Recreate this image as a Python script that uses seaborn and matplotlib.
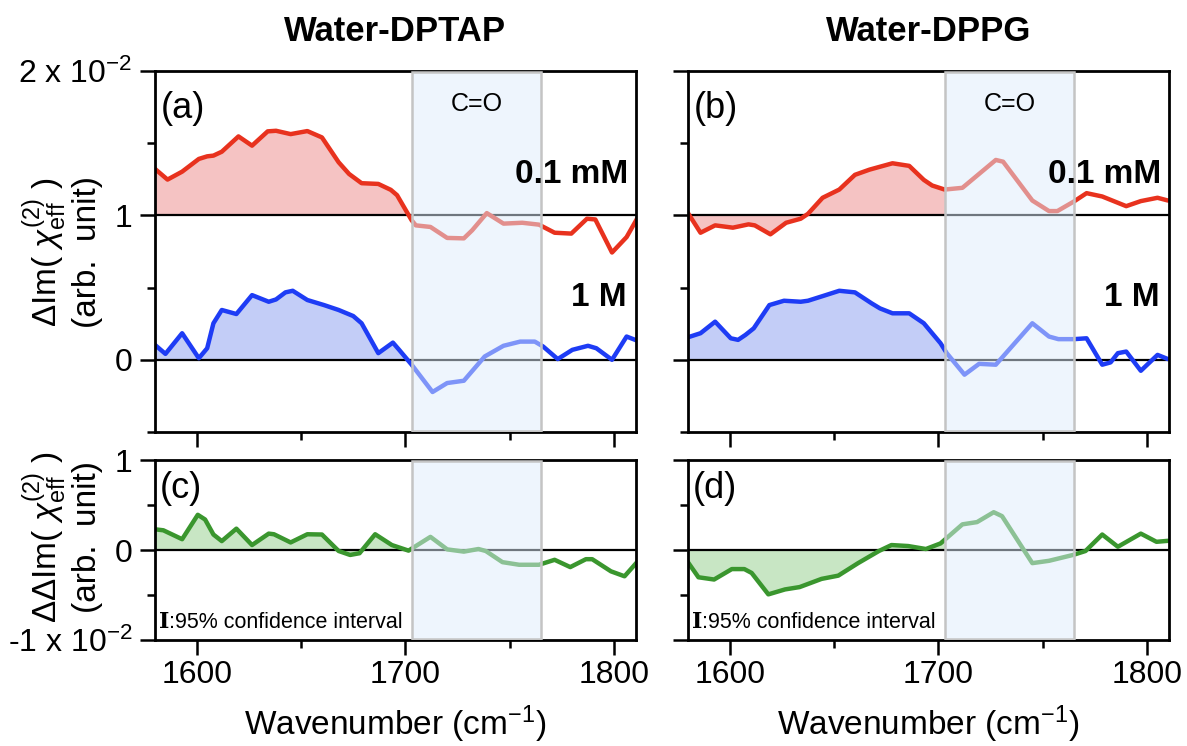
import matplotlib
matplotlib.use("Agg")
import matplotlib.pyplot as plt
from matplotlib.patches import Rectangle
from matplotlib.ticker import FixedLocator, FixedFormatter, NullFormatter
import numpy as np
import seaborn as sns

# ── Data (units of 1e-2) ────────────────────────────────────────────────────

# (a) Water-DPTAP, 0.1 mM (plotted on top of a +1 baseline)
WN_A_LOW = [1580, 1586, 1593, 1601, 1605, 1608, 1612, 1620, 1626.5, 1634, 1638, 1645,
            1653, 1660, 1668, 1673, 1679, 1687, 1693, 1696, 1703, 1705, 1712, 1720,
            1728, 1732, 1739, 1747, 1756, 1764, 1771.5, 1779.5, 1787, 1791, 1799, 1806, 1811]
IM_A_LOW = [0.322, 0.248, 0.303, 0.391, 0.409, 0.414, 0.441, 0.547, 0.483, 0.582, 0.586, 0.563,
            0.584, 0.540, 0.368, 0.287, 0.223, 0.218, 0.177, 0.140, -0.034, -0.069, -0.080, -0.156,
            -0.159, -0.103, 0.016, -0.057, -0.051, -0.064, -0.120, -0.126, -0.023, -0.028, -0.257,
            -0.150, -0.023]

# (a) Water-DPTAP, 1 M
WN_A_HIGH = [1580, 1585, 1593, 1601, 1605, 1608, 1612, 1619, 1626.5, 1634.5, 1638, 1642.5,
             1646, 1653, 1661, 1668, 1675, 1679, 1687, 1694, 1697, 1703, 1713, 1720, 1728,
             1738, 1747, 1755, 1762, 1766, 1773, 1780, 1787.5, 1791.5, 1799, 1806, 1811]
IM_A_HIGH = [0.103, 0.041, 0.184, 0.011, 0.080, 0.253, 0.345, 0.317, 0.448, 0.402, 0.418, 0.467,
             0.478, 0.414, 0.379, 0.345, 0.303, 0.253, 0.046, 0.119, 0.069, -0.034, -0.223, -0.161,
             -0.145, 0.023, 0.097, 0.126, 0.126, 0.092, 0.005, 0.069, 0.097, 0.080, 0.000, 0.161, 0.133]

# (b) Water-DPPG, 0.1 mM
WN_B_LOW = [1580, 1586, 1593, 1601.5, 1609, 1612, 1619.5, 1627, 1634, 1637.5, 1644.5, 1652.5,
            1660, 1667, 1678, 1686, 1693, 1697, 1703, 1711.5, 1727.5, 1731, 1745, 1753, 1757,
            1765, 1771, 1778.5, 1790, 1797, 1805, 1810]
IM_B_LOW = [0.016, -0.120, -0.069, -0.085, -0.062, -0.069, -0.131, -0.051, -0.023, 0.011, 0.122,
            0.179, 0.281, 0.317, 0.361, 0.343, 0.246, 0.207, 0.179, 0.191, 0.384, 0.372, 0.103,
            0.030, 0.030, 0.097, 0.154, 0.131, 0.064, 0.099, 0.122, 0.103]

# (b) Water-DPPG, 1 M
WN_B_HIGH = [1580, 1586, 1593, 1600.5, 1604, 1607.5, 1611.5, 1619, 1626, 1634, 1637.5, 1644.5,
             1652.5, 1660, 1668, 1672, 1678, 1686, 1693, 1697, 1701, 1704, 1712.5, 1719.5,
             1727.5, 1737, 1745, 1753, 1757.5, 1765, 1771, 1778.5, 1782.5, 1786, 1790, 1797,
             1805, 1810]
IM_B_HIGH = [0.156, 0.184, 0.264, 0.149, 0.138, 0.172, 0.218, 0.379, 0.409, 0.402, 0.409, 0.441,
             0.478, 0.467, 0.391, 0.356, 0.322, 0.322, 0.253, 0.184, 0.115, 0.046, -0.103, -0.028,
             -0.034, 0.122, 0.253, 0.161, 0.143, 0.143, 0.149, -0.034, -0.018, 0.046, 0.057,
             -0.076, 0.034, 0.005]

# (c) difference, Water-DPTAP
WN_C = [1580, 1584, 1593, 1600.5, 1604, 1608, 1612, 1619, 1626.5, 1634.5, 1637, 1645, 1653,
        1660, 1668, 1673.5, 1678, 1685.5, 1693.5, 1701.5, 1712, 1720, 1728, 1735, 1738.5,
        1746.5, 1754.5, 1764, 1771.5, 1779, 1786.5, 1789.5, 1798.5, 1805, 1811]
DIFF_C = [0.230, 0.219, 0.120, 0.391, 0.339, 0.172, 0.099, 0.237, 0.055, 0.182, 0.175, 0.084,
          0.175, 0.172, -0.011, -0.055, -0.036, 0.175, 0.055, -0.007, 0.146, 0.007, -0.018,
          0.011, -0.011, -0.135, -0.164, -0.164, -0.109, -0.190, -0.102, -0.102, -0.237,
          -0.292, -0.135]

# (d) difference, Water-DPPG
WN_D = [1579.5, 1585, 1592.5, 1601, 1607, 1610.5, 1618.5, 1626.5, 1633.5, 1644, 1652, 1661.5,
        1671.5, 1677.5, 1685.5, 1694, 1701, 1711.5, 1718.5, 1726.5, 1730.5, 1745, 1753, 1764.5,
        1770.5, 1778.5, 1786, 1797, 1804.5, 1810]
DIFF_D = [-0.120, -0.303, -0.328, -0.212, -0.212, -0.255, -0.493, -0.438, -0.412, -0.321,
          -0.285, -0.146, -0.011, 0.055, 0.044, 0.011, 0.073, 0.285, 0.310, 0.420, 0.376,
          -0.146, -0.120, -0.055, -0.011, 0.172, 0.036, 0.182, 0.091, 0.102]

TITLES = ["Water-DPTAP", "Water-DPPG"]
CONC_LABELS = ["0.1 mM", "1 M"]
PANEL_TAGS = [["(a)", "(b)"], ["(c)", "(d)"]]
CO_BAND = (1703, 1765)

# ── Styling ─────────────────────────────────────────────────────────────────

RED, RED_FILL = "#e8321e", "#f5c3c3"
BLUE, BLUE_FILL = "#1e3cf5", "#c3cdf7"
GREEN, GREEN_FILL = "#3a962e", "#c8e6c4"
BOX_FACE = (0.87, 0.93, 0.99, 0.5)
BOX_EDGE = "#c4c4c4"
XLIM = (1580, 1810.5)
FONT = ["Liberation Sans", "DejaVu Sans"]

sns.set_style("ticks")
plt.rcParams.update({
    "font.family": FONT,
    "mathtext.fontset": "custom",
    "mathtext.rm": "Liberation Sans",
    "mathtext.it": "Liberation Sans:italic",
    "mathtext.bf": "Liberation Sans:bold",
    "axes.linewidth": 2.0,
    "axes.edgecolor": "black",
    "axes.labelcolor": "black",
    "text.color": "black",
    "xtick.color": "black",
    "ytick.color": "black",
    "xtick.labelcolor": "black",
    "ytick.labelcolor": "black",
})


def draw_spectrum(ax, wn, vals, base, color, fill_color):
    wn = np.asarray(wn, dtype=float)
    y = base + np.asarray(vals, dtype=float)
    poly = ax.fill_between(wn, base, y, color=fill_color, lw=0, zorder=1)
    clip = Rectangle((XLIM[0] - 5, -10), CO_BAND[0] - XLIM[0] + 5, 20, transform=ax.transData)
    poly.set_clip_path(clip)
    sns.lineplot(x=wn, y=y, ax=ax, color=color, linewidth=3.2, sort=False,
                 estimator=None, zorder=2)
    ax.axhline(base, color="black", lw=1.6, zorder=1.5)


def style_axes(ax, ylim, yticks, ylabels, yminor, show_ylab, show_xlab):
    ax.set_xlim(*XLIM)
    ax.set_ylim(*ylim)
    ax.xaxis.set_major_locator(FixedLocator([1600, 1700, 1800]))
    ax.xaxis.set_minor_locator(FixedLocator([1650, 1750]))
    ax.yaxis.set_major_locator(FixedLocator(yticks))
    ax.yaxis.set_minor_locator(FixedLocator(yminor))
    if show_ylab:
        ax.yaxis.set_major_formatter(FixedFormatter(ylabels))
    else:
        ax.yaxis.set_major_formatter(NullFormatter())
    if not show_xlab:
        ax.xaxis.set_major_formatter(NullFormatter())
    ax.tick_params(which="major", direction="out", length=10.5, width=1.8, labelsize=23)
    ax.tick_params(which="minor", direction="out", length=5.5, width=1.8)
    ax.tick_params(axis="x", which="major", pad=4)
    ax.tick_params(axis="y", which="major", pad=6)
    for s in ax.spines.values():
        s.set_visible(True)
        s.set_linewidth(2.0)
    ax.set_xlabel("")
    ax.set_ylabel("")
    ax.axvspan(CO_BAND[0], CO_BAND[1], ymin=0.004, ymax=0.996,
               facecolor=BOX_FACE, edgecolor=BOX_EDGE, lw=1.8, zorder=3)


fig = plt.figure(figsize=(11.87, 7.46), dpi=100)
W, H = 1187, 746
lefts = [155, 688]
ax_w = 481
top_axes, bot_axes = [], []
for col, left in enumerate(lefts):
    top_axes.append(fig.add_axes([left / W, 1 - 432 / H, ax_w / W, 361 / H]))
    bot_axes.append(fig.add_axes([left / W, 1 - 640 / H, ax_w / W, 180 / H]))

spectra = [
    ((WN_A_LOW, IM_A_LOW), (WN_A_HIGH, IM_A_HIGH), (WN_C, DIFF_C)),
    ((WN_B_LOW, IM_B_LOW), (WN_B_HIGH, IM_B_HIGH), (WN_D, DIFF_D)),
]

for col in range(2):
    (wl, vl), (wh, vh), (wd, vd) = spectra[col]
    ax = top_axes[col]
    draw_spectrum(ax, wl, vl, 1.0, RED, RED_FILL)
    draw_spectrum(ax, wh, vh, 0.0, BLUE, BLUE_FILL)
    style_axes(ax, (-0.5, 2.0), [0, 1, 2], ["0", "1", r"2 x 10$^{\mathregular{-2}}$"],
               [-0.5, 0.5, 1.5], col == 0, False)
    ax.text(0.012, 0.945, PANEL_TAGS[0][col], transform=ax.transAxes, fontsize=26,
            ha="left", va="top", zorder=5)
    ax.text(sum(CO_BAND) / 2, 1.77, "C=O", ha="center", va="center", fontsize=18, zorder=5)
    ax.text(1807, 1.285, CONC_LABELS[0], ha="right", va="center", fontsize=24,
            fontweight="bold", zorder=5)
    ax.text(1806, 0.434, CONC_LABELS[1], ha="right", va="center", fontsize=24,
            fontweight="bold", zorder=5)

    ax = bot_axes[col]
    draw_spectrum(ax, wd, vd, 0.0, GREEN, GREEN_FILL)
    style_axes(ax, (-1.0, 1.0), [-1, 0, 1], [r"-1 x 10$^{\mathregular{-2}}$", "0", "1"],
               [-0.5, 0.5], col == 0, True)
    ax.text(0.01, 0.94, PANEL_TAGS[1][col], transform=ax.transAxes, fontsize=26,
            ha="left", va="top", zorder=5)
    t1 = ax.text(0.008, 0.065, "I", transform=ax.transAxes, fontsize=16,
                 family="DejaVu Serif", fontweight="bold", ha="left", va="baseline", zorder=5)
    ax.annotate(":95% confidence interval", xy=(1, 0), xycoords=t1, fontsize=15.5,
                ha="left", va="bottom", zorder=5)

    # column title and x label
    cx = (lefts[col] + ax_w / 2) / W
    fig.text(cx, 1 - 41 / H, TITLES[col], ha="center", va="baseline", fontsize=25,
             fontweight="bold")
    fig.text(cx, 11 / H, r"Wavenumber (cm$^{\mathregular{-1}}$)", ha="center",
             va="baseline", fontsize=24)

fig.text(62 / W, 1 - 252 / H, "ΔIm( $\\chi^{(2)}_{\\mathregular{eff}}$ )\n(arb.  unit)",
         rotation=90, ha="center", va="center", multialignment="center", fontsize=24,
         linespacing=1.05)
fig.text(62 / W, 1 - 537 / H, "ΔΔIm( $\\chi^{(2)}_{\\mathregular{eff}}$ )\n(arb.  unit)",
         rotation=90, ha="center", va="center", multialignment="center", fontsize=24,
         linespacing=1.05)

fig.savefig("out.png", dpi=100)
